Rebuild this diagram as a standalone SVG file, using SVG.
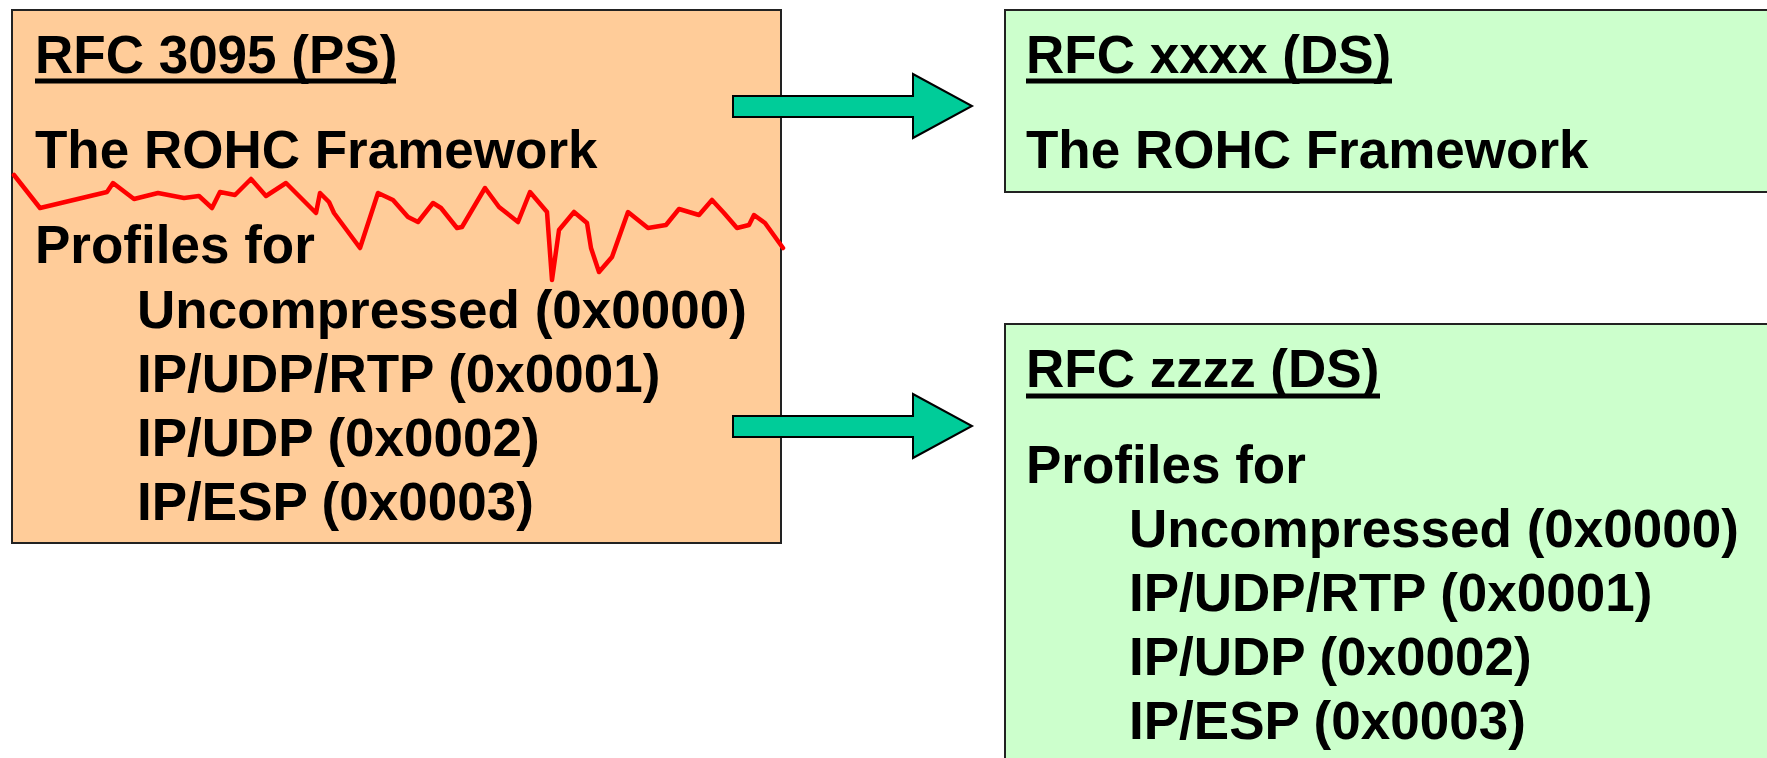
<svg xmlns="http://www.w3.org/2000/svg" width="1767" height="758" viewBox="0 0 1767 758">
<style>
.t{font-family:"Liberation Sans",Arial,sans-serif;font-weight:bold;font-size:53px;fill:#000}
.box{stroke:#222;stroke-width:2}
.ul{stroke:#000;stroke-width:5}
.arrow{fill:#00CC99;stroke:#000;stroke-width:2;stroke-linejoin:miter}
</style>
<rect width="1767" height="758" fill="#fff"/>
<g id="node-rfc3095">
<rect class="box" x="12" y="10" width="769" height="533" fill="#FFCC99"/>
<text class="t" x="35" y="73">RFC 3095 (PS)</text>
<line class="ul" x1="35" y1="81" x2="396" y2="81"/>
<text class="t" x="35" y="168">The ROHC Framework</text>
<text class="t" x="35" y="263">Profiles for</text>
<text class="t" x="137" y="328">Uncompressed (0x0000)</text>
<text class="t" x="137" y="392">IP/UDP/RTP (0x0001)</text>
<text class="t" x="137" y="456">IP/UDP (0x0002)</text>
<text class="t" x="137" y="520">IP/ESP (0x0003)</text>
<polyline fill="none" stroke="#FF0000" stroke-width="4.5" stroke-linejoin="round" stroke-linecap="round" points="14,175 40,208 107,192 113,183 134,199 158,193 184,198 199,196 212,208 220,192 235,195 251,179 266,196 286,183 316,213 320,193 329,202 334,213 360,248 378,193 393,200 408,217 418,222 433,203 441,208 457,228 462,227 485,188 499,207 518,222 530,192 547,212 552,280 559,230 574,212 587,223 591,248 599,272 612,257 628,212 648,228 666,225 679,209 699,215 712,200 724,213 737,228 749,225 754,215 765,223 783,248"/>
</g>
<g id="node-rfcxxxx">
<rect class="box" x="1005" y="10" width="780" height="182" fill="#CCFFCC"/>
<text class="t" x="1026" y="73">RFC xxxx (DS)</text>
<line class="ul" x1="1026" y1="81" x2="1392" y2="81"/>
<text class="t" x="1026" y="168">The ROHC Framework</text>
</g>
<g id="node-rfczzzz">
<rect class="box" x="1005" y="324" width="780" height="460" fill="#CCFFCC"/>
<text class="t" x="1026" y="387">RFC zzzz (DS)</text>
<line class="ul" x1="1026" y1="396" x2="1380" y2="396"/>
<text class="t" x="1026" y="483">Profiles for</text>
<text class="t" x="1129" y="547">Uncompressed (0x0000)</text>
<text class="t" x="1129" y="611">IP/UDP/RTP (0x0001)</text>
<text class="t" x="1129" y="675">IP/UDP (0x0002)</text>
<text class="t" x="1129" y="739">IP/ESP (0x0003)</text>
</g>
<g id="connectors">
<polygon class="arrow" points="733,96 913,96 913,74 972,106 913,138 913,117 733,117"/>
<polygon class="arrow" points="733,416 913,416 913,394 972,426 913,458 913,437 733,437"/>
</g>
</svg>
